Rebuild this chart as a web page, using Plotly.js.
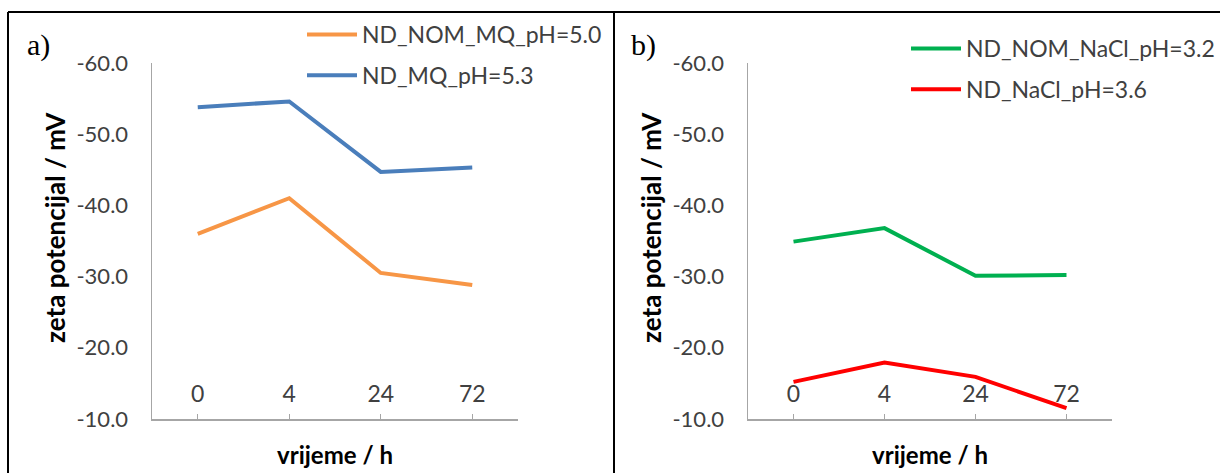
<!DOCTYPE html>
<html>
<head>
<meta charset="utf-8">
<script src="https://cdn.plot.ly/plotly-3.0.1.min.js"></script>
<style>html,body{margin:0;padding:0;background:#fff;}#chart{width:1220px;height:473px;}</style>
</head>
<body>
<div id="chart"></div>
<script>
// ---- data ----
const times = ['0', '4', '24', '72'];
const ndNomMq = [-36.0, -41.0, -30.5, -28.8];
const ndMq = [-53.8, -54.6, -44.7, -45.3];
const ndNomNaCl = [-34.9, -36.8, -30.1, -30.2];
const ndNaCl = [-15.2, -17.9, -15.9, -11.5];
const yTicks = [-60, -50, -40, -30, -20, -10];
const yTickText = yTicks.map(v => v.toFixed(1));
const xTitle = 'vrijeme / h';
const yTitle = 'zeta potencijal / mV';

const idx = times.map((t, i) => i);
const FONT = "Lato, 'DejaVu Sans Condensed', sans-serif";
const TXT = '#404040';

const traces = [
  {x: idx, y: ndNomMq, name: 'ND_NOM_MQ_pH=5.0', mode: 'lines', line: {color: '#F79646', width: 4}, xaxis: 'x', yaxis: 'y', legend: 'legend', legendgroup: 'a1'},
  {x: idx, y: ndMq, name: 'ND_MQ_pH=5.3', mode: 'lines', line: {color: '#4A7EBB', width: 4}, xaxis: 'x', yaxis: 'y', legend: 'legend', legendgroup: 'a2'},
  {x: idx, y: ndNomNaCl, name: 'ND_NOM_NaCl_pH=3.2', mode: 'lines', line: {color: '#00B050', width: 4}, xaxis: 'x2', yaxis: 'y2', legend: 'legend2', legendgroup: 'b1'},
  {x: idx, y: ndNaCl, name: 'ND_NaCl_pH=3.6', mode: 'lines', line: {color: '#FF0000', width: 4}, xaxis: 'x2', yaxis: 'y2', legend: 'legend2', legendgroup: 'b2'}
];

const W = 1220, H = 473;
const px = v => v / W, py = v => 1 - v / H;

function xax(d0, d1, anchor) {
  return {
    domain: [px(d0), px(d1)], anchor: anchor, range: [-0.5, 3.5],
    tickmode: 'array', tickvals: idx.concat([3.5]), ticktext: times.concat(['']),
    ticks: 'inside', ticklen: 5, tickcolor: '#A6A6A6', tickwidth: 1,
    ticklabelposition: 'inside', ticklabelstandoff: 9, ticklabeloverflow: 'allow',
    showline: true, linecolor: '#A6A6A6', linewidth: 1.5, showgrid: false, zeroline: false,
    tickfont: {family: FONT, size: 23, color: TXT},
    title: {text: xTitle, font: {family: FONT, size: 24, color: '#000', weight: 'bold'}, standoff: 41}
  };
}
function yax(anchor) {
  return {
    domain: [py(419), py(63)], anchor: anchor, range: [-9.98, -60], autorange: false,
    tickmode: 'array', tickvals: yTicks, ticktext: yTickText,
    ticks: '', showline: true, linecolor: '#A6A6A6', linewidth: 1.5, showgrid: false, zeroline: false,
    ticklabelstandoff: 18, ticklabeloverflow: 'allow',
    tickfont: {family: FONT, size: 22, color: TXT}
  };
}
function yTitleAnn(xPix) {
  return {text: yTitle, xref: 'paper', yref: 'paper', x: px(xPix), y: py(228), xanchor: 'center', yanchor: 'middle',
    textangle: -90, showarrow: false, font: {family: FONT, size: 26, color: '#000', weight: 'bold'}};
}

const layout = {
  width: W, height: H,
  margin: {l: 0, r: 0, t: 0, b: 0, autoexpand: false},
  paper_bgcolor: '#fff', plot_bgcolor: '#fff',
  showlegend: true,
  xaxis: xax(152, 518, 'y'),
  yaxis: yax('x'),
  xaxis2: xax(748, 1112, 'y2'),
  yaxis2: yax('x2'),
  legend: {x: px(302), y: py(13), xanchor: 'left', yanchor: 'top', bgcolor: 'rgba(0,0,0,0)', itemwidth: 50,
    font: {family: FONT, size: 23, color: TXT}, tracegroupgap: 8, traceorder: 'grouped'},
  legend2: {x: px(906), y: py(27), xanchor: 'left', yanchor: 'top', bgcolor: 'rgba(0,0,0,0)', itemwidth: 50,
    font: {family: FONT, size: 23, color: TXT}, tracegroupgap: 8, traceorder: 'grouped'},
  annotations: [
    yTitleAnn(55), yTitleAnn(651),
    {text: 'a)', xref: 'paper', yref: 'paper', x: px(38), y: py(45), xanchor: 'center', yanchor: 'middle', showarrow: false,
      font: {family: "'Liberation Serif', 'DejaVu Serif', serif", size: 30, color: '#000'}},
    {text: 'b)', xref: 'paper', yref: 'paper', x: px(643), y: py(45), xanchor: 'center', yanchor: 'middle', showarrow: false,
      font: {family: "'Liberation Serif', 'DejaVu Serif', serif", size: 30, color: '#000'}}
  ],
  shapes: [
    {type: 'line', xref: 'paper', yref: 'paper', x0: px(8), x1: 1, y0: py(12), y1: py(12), line: {color: '#000', width: 2}},
    {type: 'line', xref: 'paper', yref: 'paper', x0: px(8), x1: px(8), y0: py(12), y1: 0, line: {color: '#000', width: 2}},
    {type: 'line', xref: 'paper', yref: 'paper', x0: px(614), x1: px(614), y0: py(12), y1: 0, line: {color: '#000', width: 2}}
  ]
};

Plotly.newPlot('chart', traces, layout, {displayModeBar: false, staticPlot: true});
</script>
</body>
</html>
